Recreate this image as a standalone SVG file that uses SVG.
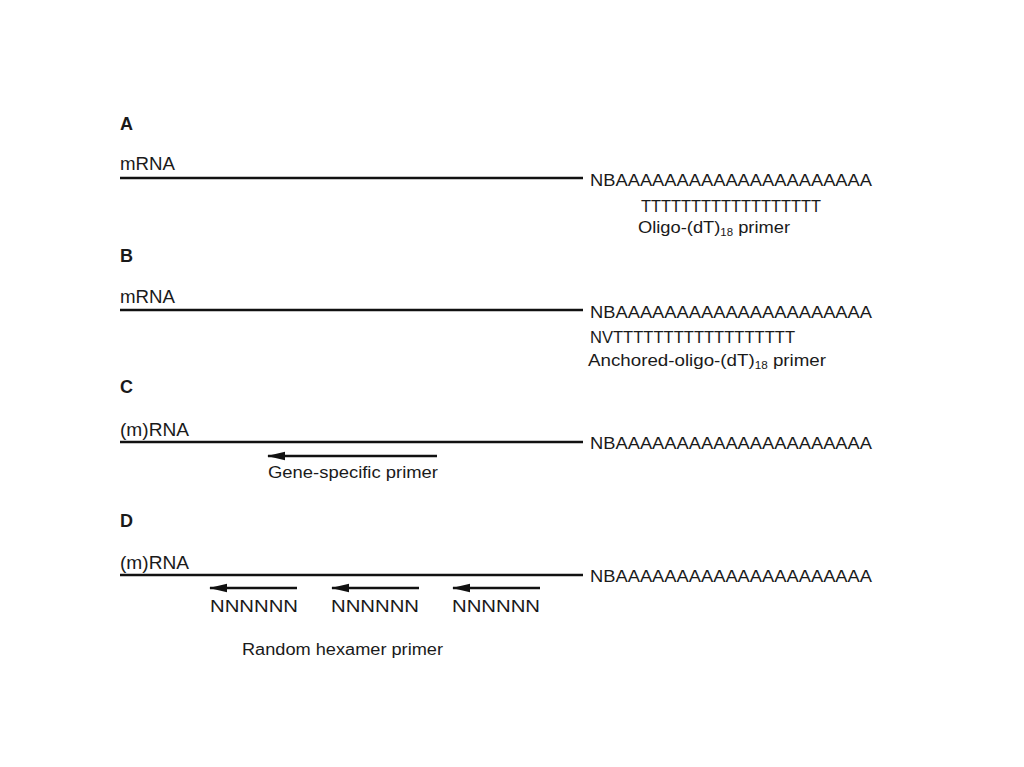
<svg xmlns="http://www.w3.org/2000/svg" width="1024" height="767" viewBox="0 0 1024 767">
<style>
text{font-family:"Liberation Sans",Arial,sans-serif;fill:#1a1a1a;font-size:16px}
.h{font-weight:bold;font-size:18px}
.lab{font-size:18px}
.seq{font-size:17px}
.rna{stroke:#111;stroke-width:2.6;fill:none}
.pr{stroke:#111;stroke-width:2.4;fill:none}
</style>
<defs>
<marker id="ah" markerWidth="18" markerHeight="10" refX="17" refY="5" orient="auto" markerUnits="userSpaceOnUse">
<path d="M18,5 L0,0.8 L0,9.2 Z" fill="#111"/>
</marker>
</defs>
<rect width="1024" height="767" fill="#fff"/>
<g id="panelA">
<text class="h" x="120" y="130">A</text>
<text class="lab" x="120" y="170" textLength="55" lengthAdjust="spacingAndGlyphs">mRNA</text>
<text class="seq" x="590" y="186" textLength="282" lengthAdjust="spacingAndGlyphs">NBAAAAAAAAAAAAAAAAAAAAA</text>
<text class="seq" x="641" y="212" textLength="180" lengthAdjust="spacingAndGlyphs">TTTTTTTTTTTTTTTTTT</text>
<text x="638" y="233" textLength="152" lengthAdjust="spacingAndGlyphs">Oligo-(dT)<tspan font-size="10" dy="3">18</tspan><tspan dy="-3"> primer</tspan></text>
</g>
<g id="panelB">
<text class="h" x="120" y="262">B</text>
<text class="lab" x="120" y="303" textLength="55" lengthAdjust="spacingAndGlyphs">mRNA</text>
<text class="seq" x="590" y="318" textLength="282" lengthAdjust="spacingAndGlyphs">NBAAAAAAAAAAAAAAAAAAAAA</text>
<text class="seq" x="590" y="343" textLength="205" lengthAdjust="spacingAndGlyphs">NVTTTTTTTTTTTTTTTTTT</text>
<text x="588" y="366" textLength="238" lengthAdjust="spacingAndGlyphs">Anchored-oligo-(dT)<tspan font-size="10" dy="3">18</tspan><tspan dy="-3"> primer</tspan></text>
</g>
<g id="panelC">
<text class="h" x="120" y="393">C</text>
<text class="lab" x="120" y="436" textLength="69" lengthAdjust="spacingAndGlyphs">(m)RNA</text>
<text class="seq" x="590" y="449" textLength="282" lengthAdjust="spacingAndGlyphs">NBAAAAAAAAAAAAAAAAAAAAA</text>
<text x="268" y="478" textLength="170" lengthAdjust="spacingAndGlyphs">Gene-specific primer</text>
</g>
<g id="panelD">
<text class="h" x="120" y="527">D</text>
<text class="lab" x="120" y="569" textLength="69" lengthAdjust="spacingAndGlyphs">(m)RNA</text>
<text class="seq" x="590" y="582" textLength="282" lengthAdjust="spacingAndGlyphs">NBAAAAAAAAAAAAAAAAAAAAA</text>
<text x="210" y="612" textLength="88" lengthAdjust="spacingAndGlyphs">NNNNNN</text>
<text x="331" y="612" textLength="88" lengthAdjust="spacingAndGlyphs">NNNNNN</text>
<text x="452" y="612" textLength="88" lengthAdjust="spacingAndGlyphs">NNNNNN</text>
<text x="242" y="655" textLength="201" lengthAdjust="spacingAndGlyphs">Random hexamer primer</text>
</g>
<g id="connectors">
<line class="rna" x1="120" y1="178" x2="583" y2="178"/>
<line class="rna" x1="120" y1="310" x2="583" y2="310"/>
<line class="rna" x1="120" y1="442" x2="583" y2="442"/>
<line class="rna" x1="120" y1="575" x2="583" y2="575"/>
<line class="pr" x1="437" y1="456" x2="268" y2="456" marker-end="url(#ah)"/>
<line class="pr" x1="297" y1="588" x2="210" y2="588" marker-end="url(#ah)"/>
<line class="pr" x1="419" y1="588" x2="332" y2="588" marker-end="url(#ah)"/>
<line class="pr" x1="540" y1="588" x2="453" y2="588" marker-end="url(#ah)"/>
</g>
</svg>
